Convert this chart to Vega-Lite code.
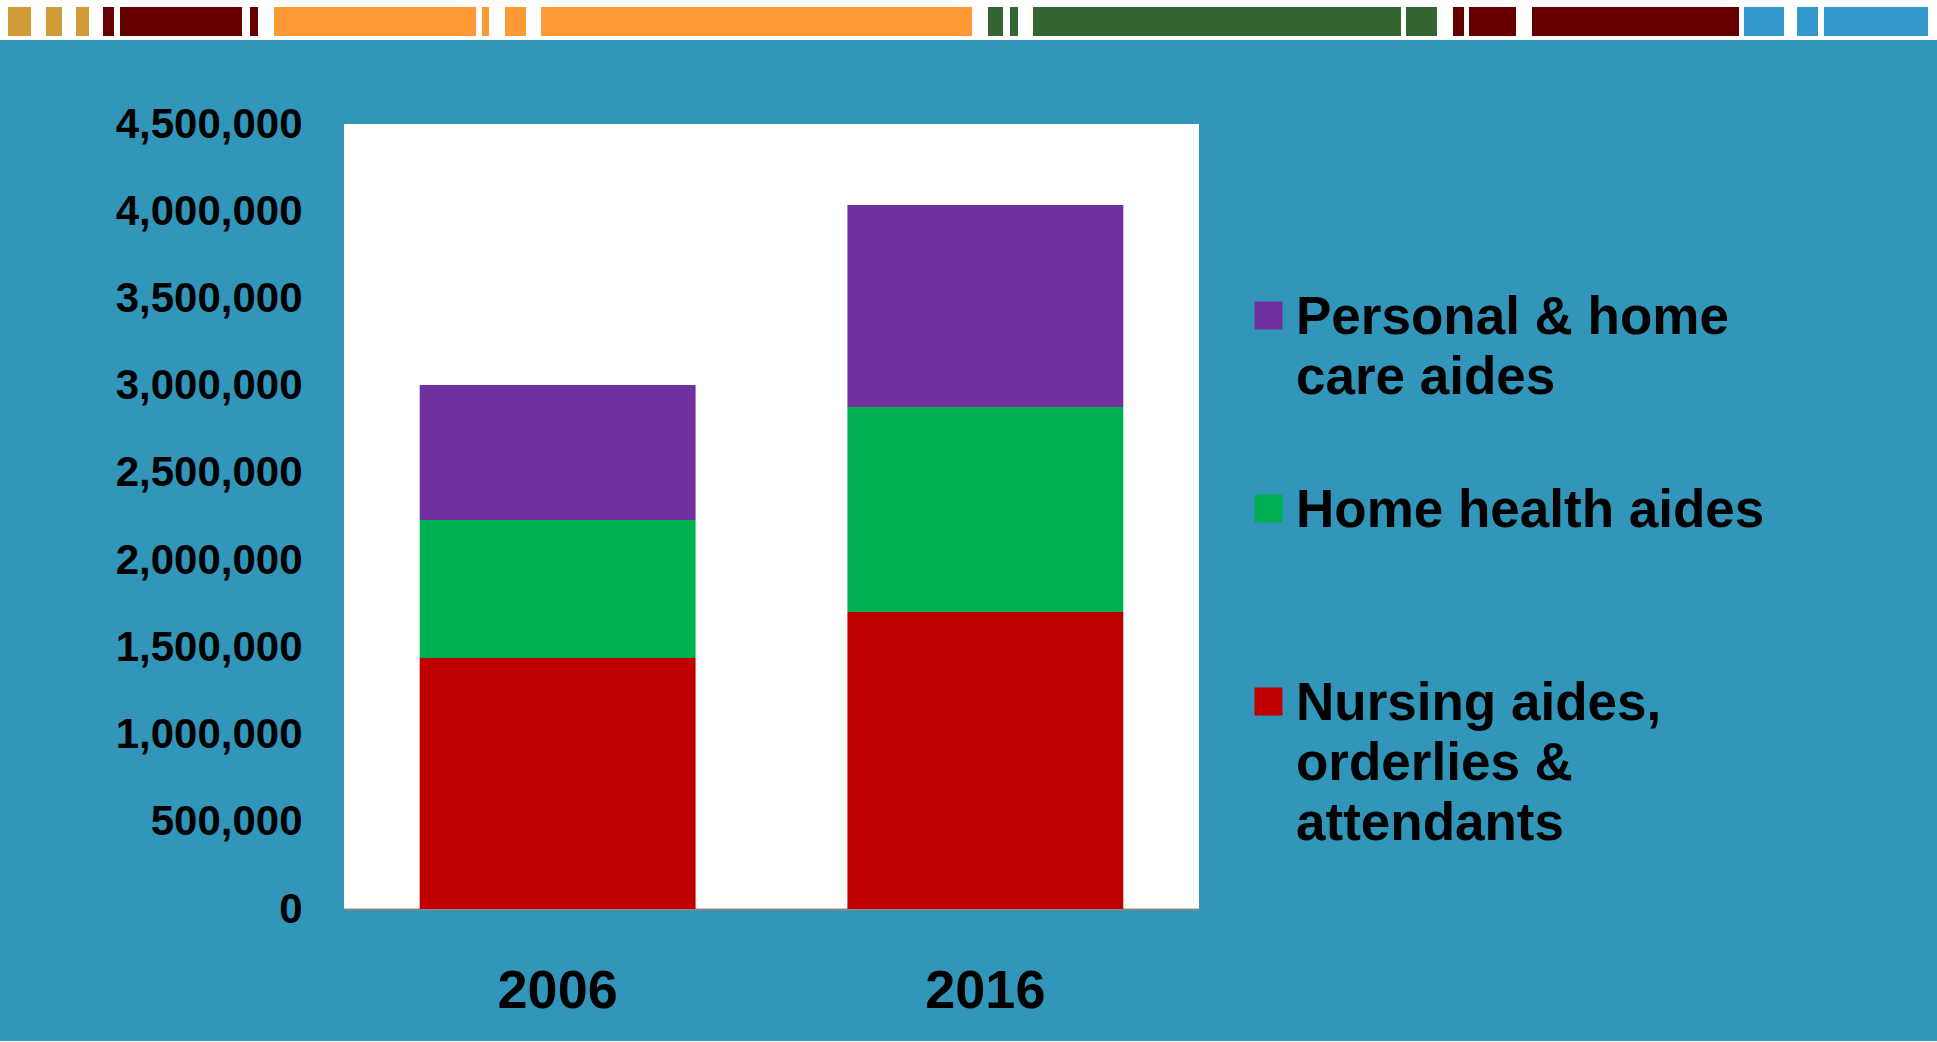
{
  "$schema": "https://vega.github.io/schema/vega-lite/v6.json",
  "background": "#3196b9",
  "padding": 0,
  "spacing": 63,
  "config": {"view": {"stroke": null}, "font": "Liberation Sans"},
  "resolve": {"scale": {"color": "independent", "x": "independent", "y": "independent"}, "legend": {"color": "independent"}},
  "vconcat": [
    {
      "width": 1937,
      "height": 40,
      "view": {"fill": "white", "stroke": null},
      "data": {"values": [
        {"start": 8, "end": 31, "group": "gold"},
        {"start": 46, "end": 62, "group": "gold"},
        {"start": 76, "end": 89, "group": "gold"},
        {"start": 103, "end": 114, "group": "maroon"},
        {"start": 120, "end": 242, "group": "maroon"},
        {"start": 250, "end": 258, "group": "maroon"},
        {"start": 274, "end": 476, "group": "orange"},
        {"start": 482, "end": 489, "group": "orange"},
        {"start": 505, "end": 526, "group": "orange"},
        {"start": 541, "end": 972, "group": "orange"},
        {"start": 988, "end": 1003, "group": "green"},
        {"start": 1010, "end": 1018, "group": "green"},
        {"start": 1033, "end": 1401, "group": "green"},
        {"start": 1406, "end": 1437, "group": "green"},
        {"start": 1453, "end": 1464, "group": "maroon"},
        {"start": 1469, "end": 1516, "group": "maroon"},
        {"start": 1532, "end": 1739, "group": "maroon"},
        {"start": 1744, "end": 1784, "group": "blue"},
        {"start": 1797, "end": 1818, "group": "blue"},
        {"start": 1824, "end": 1928, "group": "blue"}
      ]},
      "mark": {"type": "bar"},
      "encoding": {
        "x": {"field": "start", "type": "quantitative", "scale": {"domain": [0, 1937], "nice": false, "zero": false}, "axis": null},
        "x2": {"field": "end"},
        "y": {"datum": "strip", "type": "nominal", "scale": {"paddingInner": 0, "paddingOuter": 0.19, "align": 0.636}, "axis": null},
        "color": {"field": "group", "type": "nominal", "scale": {"domain": ["gold", "maroon", "orange", "green", "blue"], "range": ["#D09A36", "#660000", "#FF9933", "#336633", "#3399CC"]}, "legend": null}
      }
    },
    {
      "spacing": 0,
      "resolve": {"scale": {"color": "independent", "x": "independent", "y": "independent"}, "legend": {"color": "independent"}},
      "hconcat": [
        {
          "width": 1,
          "height": 785,
          "data": {"values": []},
          "mark": {"type": "text"},
          "encoding": {}
        },
        {
          "width": 855,
          "height": 785,
          "view": {"fill": "white", "stroke": null},
          "data": {"values": [
            {"year": "2006", "category": "Nursing aides, orderlies & attendants", "value": 1439000},
            {"year": "2006", "category": "Home health aides", "value": 791000},
            {"year": "2006", "category": "Personal & home care aides", "value": 774000},
            {"year": "2016", "category": "Nursing aides, orderlies & attendants", "value": 1703000},
            {"year": "2016", "category": "Home health aides", "value": 1175000},
            {"year": "2016", "category": "Personal & home care aides", "value": 1158000}
          ]},
          "mark": {"type": "bar"},
          "encoding": {
            "x": {
              "field": "year", "type": "nominal",
              "scale": {"paddingInner": 0.355, "paddingOuter": 0.177},
              "axis": {"title": null, "labelAngle": 0, "labelFont": "Liberation Sans", "labelFontSize": 54, "labelFontWeight": "bold", "labelColor": "black", "labelBaseline": "alphabetic", "labelPadding": 98, "ticks": false, "tickSize": 0, "domain": true, "domainColor": "#888888", "domainWidth": 2, "grid": false, "minExtent": 132, "maxExtent": 132}
            },
            "y": {
              "field": "value", "type": "quantitative", "stack": "zero",
              "scale": {"domain": [0, 4500000], "nice": false},
              "axis": {"title": null, "values": [0, 500000, 1000000, 1500000, 2000000, 2500000, 3000000, 3500000, 4000000, 4500000], "format": ",d", "labelFont": "Liberation Sans", "labelFontSize": 42, "labelFontWeight": "bold", "labelColor": "black", "labelLimit": 400, "labelPadding": 42, "ticks": false, "tickSize": 0, "domain": false, "grid": false, "minExtent": 343, "maxExtent": 343}
            },
            "color": {
              "field": "category", "type": "nominal",
              "scale": {"domain": ["Personal & home care aides", "Home health aides", "Nursing aides, orderlies & attendants"], "range": ["#7030A0", "#00B050", "#C00000"]},
              "legend": {
                "orient": "none", "legendX": 898, "legendY": 165, "title": null, "direction": "vertical", "columns": 1, "gridAlign": "all", "rowPadding": 17, "padding": 0,
                "symbolType": "square", "symbolSize": 784, "symbolStrokeWidth": 0, "symbolOpacity": 1,
                "labelOffset": 1, "labelFont": "Liberation Sans", "labelFontSize": 53, "labelFontWeight": "bold", "labelColor": "black", "labelLimit": 1000, "labelBaseline": "alphabetic",
                "labelExpr": "datum.label == 'Personal & home care aides' ? ['Personal & home', 'care aides'] : datum.label == 'Nursing aides, orderlies & attendants' ? ['Nursing aides,', 'orderlies &', 'attendants'] : datum.label",
                "encode": {"labels": {"update": {"dy": {"value": 18}, "lineHeight": {"value": 60}}}}
              }
            },
            "order": {"field": "value", "sort": "descending"}
          }
        }
      ]
    }
  ]
}
